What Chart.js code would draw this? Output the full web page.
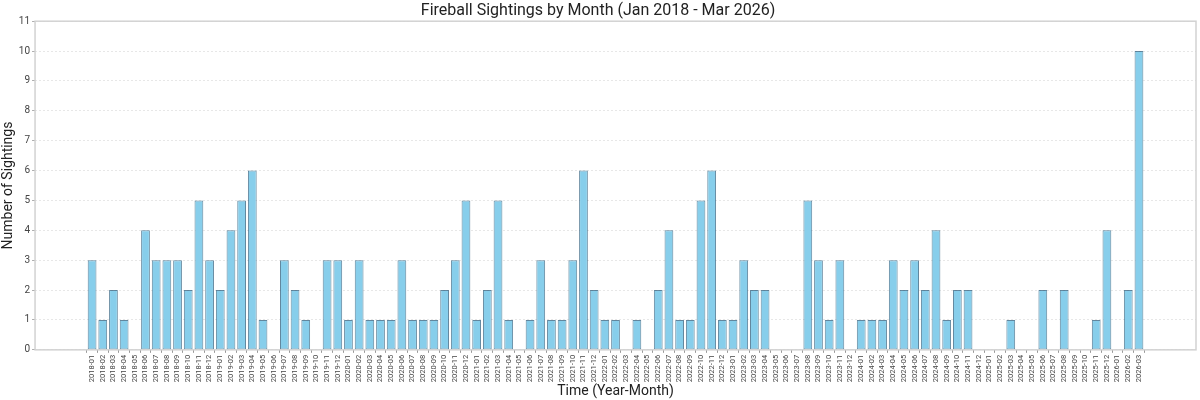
<!DOCTYPE html>
<html>
<head>
<meta charset="utf-8">
<script src="https://cdn.jsdelivr.net/npm/chart.js@4/dist/chart.umd.min.js"></script>
<style>
    html, body { margin: 0; padding: 0; background: #fff; }
    #wrap { width: 1200px; height: 400px; }
</style>
</head>
<body>
<div id="wrap"><canvas id="fireball_bar"></canvas></div>
<script>
const years = [2018, 2019, 2020, 2021, 2022, 2023, 2024, 2025, 2026];

const sightings_2018 = [3, 1, 2, 1, 0, 4, 3, 3, 3, 2, 5, 3];
const sightings_2019 = [2, 4, 5, 6, 1, 0, 3, 2, 1, 0, 3, 3];
const sightings_2020 = [1, 3, 1, 1, 1, 3, 1, 1, 1, 2, 3, 5];
const sightings_2021 = [1, 2, 5, 1, 0, 1, 3, 1, 1, 3, 6, 2];
const sightings_2022 = [1, 1, 0, 1, 0, 2, 4, 1, 1, 5, 6, 1];
const sightings_2023 = [1, 3, 2, 2, 0, 0, 0, 5, 3, 1, 3, 0];
const sightings_2024 = [1, 1, 1, 3, 2, 3, 2, 4, 1, 2, 2, 0];
const sightings_2025 = [0, 0, 1, 0, 0, 2, 0, 2, 0, 0, 1, 4];
const sightings_2026 = [0, 2, 10];

const yearly = [sightings_2018, sightings_2019, sightings_2020, sightings_2021,
    sightings_2022, sightings_2023, sightings_2024, sightings_2025, sightings_2026];

const month_labels = [];
const counts = [];
yearly.forEach((arr, yi) => {
    arr.forEach((v, mi) => {
        month_labels.push(years[yi] + '-' + String(mi + 1).padStart(2, '0'));
        counts.push(v);
    });
});

const y_ticks = [0, 1, 2, 3, 4, 5, 6, 7, 8, 9, 10, 11];

// matplotlib-like 5% margin around the bars
const n = counts.length;
const span = (n - 1) + 0.8;
const x_min = -0.4 - span * 0.05;
const x_max = (n - 1) + 0.4 + span * 0.05;

const frame = {
    id: 'frame',
    afterDraw(chart) {
        const { ctx, chartArea: a } = chart;
        ctx.save();
        ctx.strokeStyle = '#d2d2d2';
        ctx.lineWidth = 1.5;
        ctx.strokeRect(a.left, a.top, a.right - a.left, a.bottom - a.top);
        ctx.restore();
    }
};

const fontFamily = 'Roboto, "Noto Sans", sans-serif';

const fireball_bar = document.getElementById('fireball_bar').getContext('2d');
new Chart(fireball_bar, {
    type: 'bar',
    data: {
        datasets: [{
            data: counts.map((v, i) => ({ x: i, y: v })),
            backgroundColor: 'rgba(135, 206, 235, 1)',
            borderColor: 'rgba(45, 95, 125, 0.75)',
            borderWidth: 1,
            borderSkipped: false,
            barPercentage: 0.82,
            categoryPercentage: 1.0
        }]
    },
    plugins: [frame],
    options: {
        responsive: true,
        maintainAspectRatio: false,
        animation: false,
        layout: { padding: { left: 0, right: 4, top: 0, bottom: 0 } },
        plugins: {
            legend: { display: false },
            tooltip: { enabled: false },
            title: {
                display: true,
                text: 'Fireball Sightings by Month (Jan 2018 - Mar 2026)',
                color: '#222',
                font: { family: fontFamily, size: 16, weight: 'normal' },
                padding: { top: 1, bottom: 1 }
            }
        },
        scales: {
            x: {
                type: 'linear',
                min: x_min,
                max: x_max,
                offset: false,
                afterBuildTicks(axis) {
                    axis.ticks = month_labels.map((_, i) => ({ value: i }));
                },
                ticks: {
                    autoSkip: false,
                    maxRotation: 90,
                    minRotation: 90,
                    padding: 2,
                    color: '#444',
                    font: { family: fontFamily, size: 7.5 },
                    callback: (value) => month_labels[value] ?? ''
                },
                grid: {
                    display: true,
                    drawOnChartArea: false,
                    drawTicks: true,
                    tickLength: 3,
                    color: '#999'
                },
                border: { display: false },
                title: {
                    display: true,
                    text: 'Time (Year-Month)',
                    color: '#222',
                    font: { family: fontFamily, size: 14 },
                    padding: { top: -1, bottom: 0 }
                }
            },
            y: {
                min: 0,
                max: 11,
                afterBuildTicks(axis) {
                    axis.ticks = y_ticks.map(v => ({ value: v }));
                },
                ticks: {
                    color: '#444',
                    padding: 2,
                    font: { family: fontFamily, size: 10 }
                },
                grid: {
                    color: 'rgba(0, 0, 0, 0.12)',
                    lineWidth: 0.8,
                    tickLength: 3,
                    tickColor: '#999'
                },
                border: { display: false, dash: [2, 2] },
                title: {
                    display: true,
                    text: 'Number of Sightings',
                    color: '#222',
                    font: { family: fontFamily, size: 14 },
                    padding: { top: 0, bottom: 0 }
                }
            }
        }
    }
});
</script>
</body>
</html>
